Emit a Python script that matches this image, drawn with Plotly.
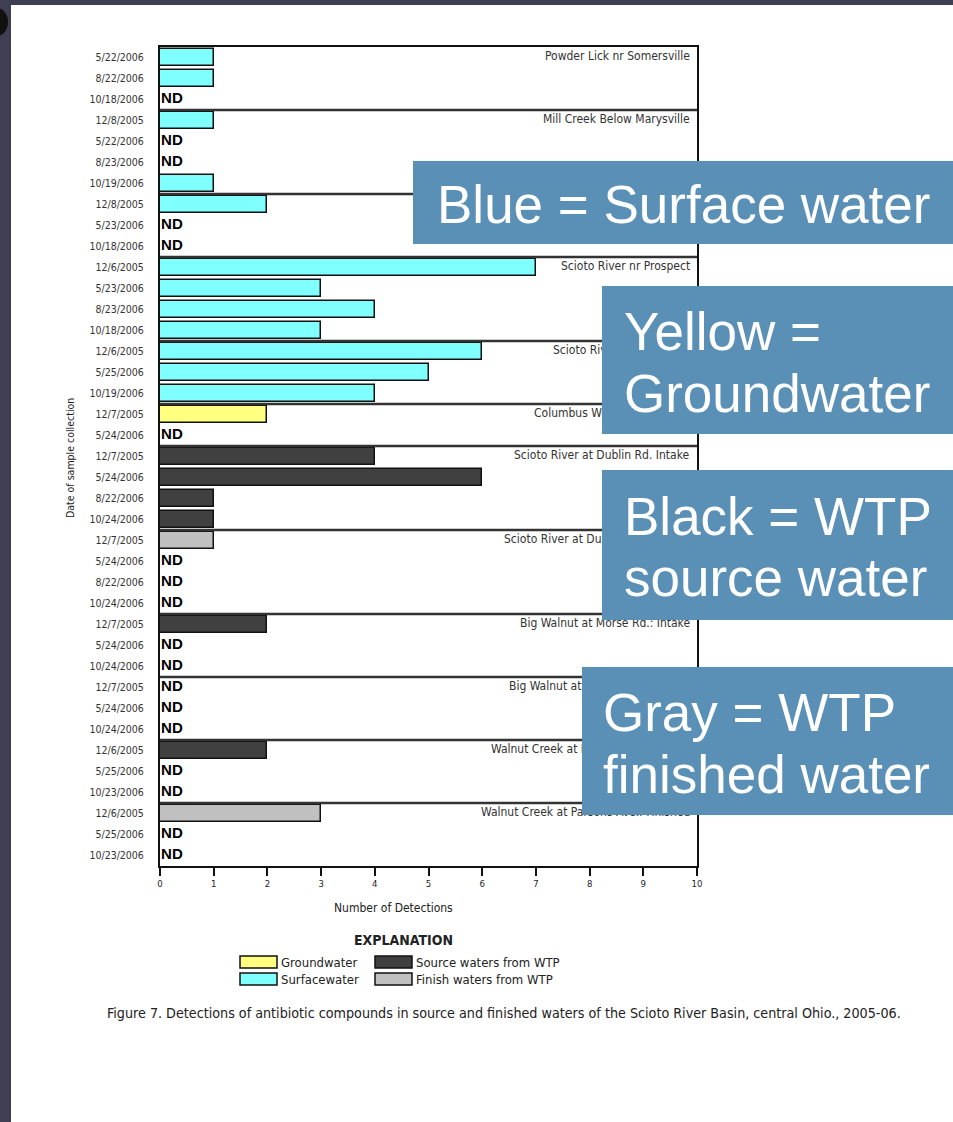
import plotly.graph_objects as go

# ---- data ----
group_names = [
    "Powder Lick nr Somersville",
    "Mill Creek Below Marysville",
    "Mill Creek nr Bellepoint",
    "Scioto River nr Prospect",
    "Scioto River at Bellepoint",
    "Columbus Well Field Finished",
    "Scioto River at Dublin Rd. Intake",
    "Scioto River at Dublin Rd. Finished",
    "Big Walnut at Morse Rd.: Intake",
    "Big Walnut at Morse Rd.: Finished",
    "Walnut Creek at Parsons Ave.: Intake",
    "Walnut Creek at Parsons Ave.: Finished",
]
group_sizes = [3, 4, 3, 4, 3, 2, 4, 4, 3, 3, 3, 3]
group_types = ["surface", "surface", "surface", "surface", "surface", "ground",
               "source", "finished", "source", "finished", "source", "finished"]

dates = [
    "5/22/2006", "8/22/2006", "10/18/2006",
    "12/8/2005", "5/22/2006", "8/23/2006", "10/19/2006",
    "12/8/2005", "5/23/2006", "10/18/2006",
    "12/6/2005", "5/23/2006", "8/23/2006", "10/18/2006",
    "12/6/2005", "5/25/2006", "10/19/2006",
    "12/7/2005", "5/24/2006",
    "12/7/2005", "5/24/2006", "8/22/2006", "10/24/2006",
    "12/7/2005", "5/24/2006", "8/22/2006", "10/24/2006",
    "12/7/2005", "5/24/2006", "10/24/2006",
    "12/7/2005", "5/24/2006", "10/24/2006",
    "12/6/2005", "5/25/2006", "10/23/2006",
    "12/6/2005", "5/25/2006", "10/23/2006",
]
# None = ND (not detected)
detections = [
    1, 1, None,
    1, None, None, 1,
    2, None, None,
    7, 3, 4, 3,
    6, 5, 4,
    2, None,
    4, 6, 1, 1,
    1, None, None, None,
    2, None, None,
    None, None, None,
    2, None, None,
    3, None, None,
]
x_ticks = list(range(0, 11))

type_colors = {
    "ground": "#ffff80",
    "surface": "#80ffff",
    "source": "#404040",
    "finished": "#c0c0c0",
}
legend_items = [
    ("ground", "Groundwater"),
    ("surface", "Surfacewater"),
    ("source", "Source waters from WTP"),
    ("finished", "Finish waters from WTP"),
]
callouts = [
    ["Blue = Surface water"],
    ["Yellow =", "Groundwater"],
    ["Black = WTP", "source water"],
    ["Gray = WTP", "finished water"],
]

# ---- page geometry (pixels) ----
W, H = 953, 1122
L, R, T, B = 160, 697, 47, 866
COND = "DejaVu Sans Condensed, Liberation Sans Narrow, sans-serif"
ARIAL = "Liberation Sans, Arial, sans-serif"


def px(x):
    return (x - L) / (R - L)


def py(y):
    return (B - y) / (B - T)


# type per row, first row of each group
row_types = []
group_start = []
i = 0
for size, t in zip(group_sizes, group_types):
    group_start.append(i)
    row_types += [t] * size
    i += size
n_rows = len(dates)
rows = list(range(n_rows))

fig = go.Figure()

for t in ["surface", "ground", "source", "finished"]:
    xs = [detections[r] for r in rows if row_types[r] == t and detections[r] is not None]
    ys = [r for r in rows if row_types[r] == t and detections[r] is not None]
    fig.add_trace(go.Bar(
        x=xs, y=ys, orientation="h", width=0.8,
        marker=dict(color=type_colors[t], line=dict(color="#111", width=1.5)),
        hoverinfo="skip",
    ))

nd_rows = [r for r in rows if detections[r] is None]
fig.add_trace(go.Scatter(
    x=[0.02] * len(nd_rows), y=nd_rows, mode="text", text=["ND"] * len(nd_rows),
    textposition="middle right",
    textfont=dict(family=ARIAL, size=15, color="black", weight="bold"),
    hoverinfo="skip",
))

shapes = []
annotations = []

# group separators and labels
for name, start in zip(group_names, group_start):
    if start > 0:
        shapes.append(dict(type="line", xref="paper", yref="y", x0=0, x1=1,
                           y0=start - 0.5, y1=start - 0.5,
                           line=dict(color="#333", width=2.5)))
    annotations.append(dict(text=name, xref="paper", yref="y", x=px(692), y=start - 0.05,
                            xanchor="right", yanchor="middle", showarrow=False,
                            font=dict(family=COND, size=12, color="#333")))

# axis titles
annotations.append(dict(text="Number of Detections", xref="paper", yref="paper",
                        x=px(393), y=py(908), xanchor="center", yanchor="middle",
                        showarrow=False, font=dict(family=COND, size=12, color="#222")))
annotations.append(dict(text="Date of sample collection", xref="paper", yref="paper",
                        x=px(70), y=py(458), textangle=-90, xanchor="center", yanchor="middle",
                        showarrow=False, font=dict(family=COND, size=10.5, color="#222")))

# explanation (legend)
annotations.append(dict(text="<b>EXPLANATION</b>", xref="paper", yref="paper",
                        x=px(403), y=py(940), xanchor="center", yanchor="middle",
                        showarrow=False, font=dict(family=COND, size=14, color="#222")))
legend_pos = [(240, 962), (240, 979), (375, 962), (375, 979)]
for (t, label), (lx, ly) in zip(legend_items, legend_pos):
    shapes.append(dict(type="rect", xref="paper", yref="paper",
                       x0=px(lx), x1=px(lx + 37), y0=py(ly - 6), y1=py(ly + 6),
                       fillcolor=type_colors[t], line=dict(color="#111", width=1.5)))
    annotations.append(dict(text=label, xref="paper", yref="paper",
                            x=px(lx + 39), y=py(ly), xanchor="left", yanchor="middle",
                            showarrow=False, font=dict(family=COND, size=13, color="#222")))

# caption
annotations.append(dict(
    text="Figure 7. Detections of antibiotic compounds in source and finished waters "
         "of the Scioto River Basin, central Ohio., 2005-06.",
    xref="paper", yref="paper", x=px(105), y=py(1013), xanchor="left", yanchor="middle",
    showarrow=False, font=dict(family=COND, size=14.2, color="#222")))

# callout boxes drawn on top of the chart labels
box_geo = [
    (413, 161, 540, 83, 435, [204]),
    (602, 286, 351, 148, 622, [331, 393]),
    (602, 470, 351, 150, 622, [516, 578]),
    (582, 667, 371, 148, 601, [712, 774]),
]
for lines, (bx, by, bw, bh, tx, tys) in zip(callouts, box_geo):
    annotations.append(dict(text=" ", xref="paper", yref="paper", x=px(bx), y=py(by),
                            xanchor="left", yanchor="top", width=bw, height=bh,
                            bgcolor="#5a90b6", borderpad=0, borderwidth=0, showarrow=False))
    for line, ty in zip(lines, tys):
        annotations.append(dict(text=line, xref="paper", yref="paper", x=px(tx), y=py(ty),
                                xanchor="left", yanchor="middle", showarrow=False,
                                font=dict(family=ARIAL, size=53, color="white")))

# slide frame
frame = "#3e3f52"
shapes.append(dict(type="rect", xref="paper", yref="paper", x0=px(-5), x1=px(11),
                   y0=py(H + 5), y1=py(-5), fillcolor=frame, line=dict(width=0)))
shapes.append(dict(type="rect", xref="paper", yref="paper", x0=px(-5), x1=px(W + 5),
                   y0=py(5), y1=py(-5), fillcolor=frame, line=dict(width=0)))
shapes.append(dict(type="circle", xref="paper", yref="paper", x0=px(-14), x1=px(8),
                   y0=py(36), y1=py(8), fillcolor="#111", line=dict(width=0)))

fig.update_layout(
    width=W, height=H,
    margin=dict(l=L, r=W - R, t=T, b=H - B),
    paper_bgcolor="white", plot_bgcolor="white",
    showlegend=False, bargap=0,
    shapes=shapes, annotations=annotations,
)
fig.update_xaxes(
    range=[0, 10], tickvals=x_ticks, ticks="outside", ticklen=8, tickwidth=1.5,
    tickcolor="#111", showgrid=False, zeroline=False,
    showline=True, linecolor="#111", linewidth=2, mirror=True,
    tickfont=dict(family=COND, size=9.5, color="#222"),
)
fig.update_yaxes(
    range=[n_rows - 0.5, -0.5], tickvals=rows, ticktext=dates, ticks="",
    ticklabelstandoff=12, showgrid=False, zeroline=False,
    showline=True, linecolor="#111", linewidth=2, mirror=True,
    tickfont=dict(family=COND, size=10.5, color="#333"),
)

fig.write_html("out.html", config={"displayModeBar": False},
               post_script="document.body.style.margin = '0';")
